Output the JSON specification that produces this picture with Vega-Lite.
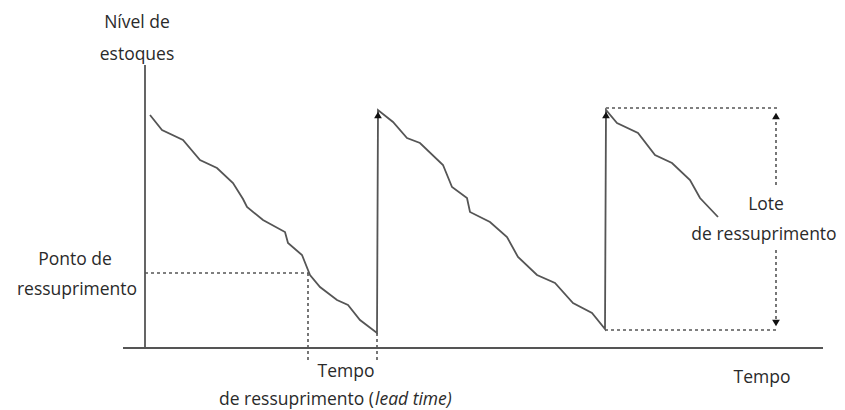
{
  "$schema": "https://vega.github.io/schema/vega-lite/v6.json",
  "width": 845,
  "height": 410,
  "padding": 0,
  "autosize": {"type": "none"},
  "background": "white",
  "config": {"view": {"stroke": null}},
  "datasets": {
    "stock": [
      {"i": 1, "t": 5, "nivel": 233},
      {"i": 2, "t": 17, "nivel": 218},
      {"i": 3, "t": 38, "nivel": 208},
      {"i": 4, "t": 55, "nivel": 188},
      {"i": 5, "t": 72, "nivel": 180},
      {"i": 6, "t": 88, "nivel": 165},
      {"i": 7, "t": 98, "nivel": 149},
      {"i": 8, "t": 102, "nivel": 141},
      {"i": 9, "t": 118, "nivel": 128},
      {"i": 10, "t": 140, "nivel": 116},
      {"i": 11, "t": 143, "nivel": 105},
      {"i": 12, "t": 157, "nivel": 93},
      {"i": 13, "t": 165, "nivel": 73},
      {"i": 14, "t": 175, "nivel": 61},
      {"i": 15, "t": 192, "nivel": 48},
      {"i": 16, "t": 203, "nivel": 43},
      {"i": 17, "t": 215, "nivel": 28},
      {"i": 18, "t": 232, "nivel": 15},
      {"i": 19, "t": 233, "nivel": 238},
      {"i": 20, "t": 248, "nivel": 226},
      {"i": 21, "t": 262, "nivel": 210},
      {"i": 22, "t": 275, "nivel": 205},
      {"i": 23, "t": 298, "nivel": 183},
      {"i": 24, "t": 307, "nivel": 161},
      {"i": 25, "t": 322, "nivel": 150},
      {"i": 26, "t": 325, "nivel": 136},
      {"i": 27, "t": 345, "nivel": 126},
      {"i": 28, "t": 362, "nivel": 111},
      {"i": 29, "t": 373, "nivel": 91},
      {"i": 30, "t": 392, "nivel": 73},
      {"i": 31, "t": 410, "nivel": 65},
      {"i": 32, "t": 428, "nivel": 45},
      {"i": 33, "t": 447, "nivel": 35},
      {"i": 34, "t": 460, "nivel": 19},
      {"i": 35, "t": 461, "nivel": 238},
      {"i": 36, "t": 472, "nivel": 225},
      {"i": 37, "t": 493, "nivel": 215},
      {"i": 38, "t": 510, "nivel": 193},
      {"i": 39, "t": 527, "nivel": 185},
      {"i": 40, "t": 545, "nivel": 168},
      {"i": 41, "t": 555, "nivel": 150},
      {"i": 42, "t": 573, "nivel": 131}
    ],
    "axes": [
      {"t": 0, "nivel": 0, "t2": 0, "nivel2": 283},
      {"t": -22, "nivel": 0, "t2": 678, "nivel2": 0}
    ],
    "dashed": [
      {"t": 0, "nivel": 75, "t2": 163, "nivel2": 75},
      {"t": 163, "nivel": 75, "t2": 163, "nivel2": -15},
      {"t": 232, "nivel": 15, "t2": 232, "nivel2": -15},
      {"t": 461, "nivel": 240, "t2": 632, "nivel2": 240},
      {"t": 460, "nivel": 18, "t2": 632, "nivel2": 18},
      {"t": 631, "nivel": 232, "t2": 631, "nivel2": 160},
      {"t": 631, "nivel": 98, "t2": 631, "nivel2": 26}
    ],
    "up": [
      {"t": 233, "nivel": 233},
      {"t": 461, "nivel": 233},
      {"t": 631, "nivel": 232}
    ],
    "down": [
      {"t": 631, "nivel": 25}
    ],
    "labels": [
      {"t": -8, "nivel": 325, "label": "Nível de"},
      {"t": -8, "nivel": 293, "label": "estoques"},
      {"t": -70, "nivel": 88, "label": "Ponto de"},
      {"t": -68, "nivel": 58, "label": "ressuprimento"},
      {"t": 201, "nivel": -24, "label": "Tempo"},
      {"t": 621, "nivel": 143, "label": "Lote"},
      {"t": 619, "nivel": 113, "label": "de ressuprimento"},
      {"t": 617, "nivel": -30, "label": "Tempo"}
    ],
    "labelsRight": [
      {"t": 229, "nivel": -52, "label": "de ressuprimento ("}
    ],
    "labelsItalic": [
      {"t": 230, "nivel": -52, "label": "lead time)"}
    ]
  },
  "encoding": {
    "x": {"field": "t", "type": "quantitative", "scale": {"domain": [-145, 700], "nice": false, "zero": false}, "axis": null},
    "y": {"field": "nivel", "type": "quantitative", "scale": {"domain": [-62, 348], "nice": false, "zero": false}, "axis": null}
  },
  "layer": [
    {
      "data": {"name": "axes"},
      "mark": {"type": "rule", "color": "#555555", "strokeWidth": 1.8},
      "encoding": {"x2": {"field": "t2"}, "y2": {"field": "nivel2"}}
    },
    {
      "data": {"name": "dashed"},
      "mark": {"type": "rule", "color": "#555555", "strokeWidth": 1.6, "strokeDash": [3, 3]},
      "encoding": {"x2": {"field": "t2"}, "y2": {"field": "nivel2"}}
    },
    {
      "data": {"name": "stock"},
      "mark": {"type": "line", "color": "#555555", "strokeWidth": 1.8, "interpolate": "linear"},
      "encoding": {"order": {"field": "i", "type": "quantitative"}}
    },
    {
      "data": {"name": "up"},
      "mark": {"type": "point", "shape": "triangle-up", "filled": true, "color": "#111111", "size": 60, "opacity": 1}
    },
    {
      "data": {"name": "down"},
      "mark": {"type": "point", "shape": "triangle-down", "filled": true, "color": "#111111", "size": 60, "opacity": 1}
    },
    {
      "data": {"name": "labels"},
      "mark": {"type": "text", "font": "Open Sans", "fontSize": 17.5, "color": "#2a2a2a", "align": "center", "baseline": "middle"},
      "encoding": {"text": {"field": "label"}}
    },
    {
      "data": {"name": "labelsRight"},
      "mark": {"type": "text", "font": "Open Sans", "fontSize": 17.5, "color": "#2a2a2a", "align": "right", "baseline": "middle"},
      "encoding": {"text": {"field": "label"}}
    },
    {
      "data": {"name": "labelsItalic"},
      "mark": {"type": "text", "font": "Open Sans", "fontSize": 17.5, "fontStyle": "italic", "color": "#2a2a2a", "align": "left", "baseline": "middle"},
      "encoding": {"text": {"field": "label"}}
    }
  ]
}
